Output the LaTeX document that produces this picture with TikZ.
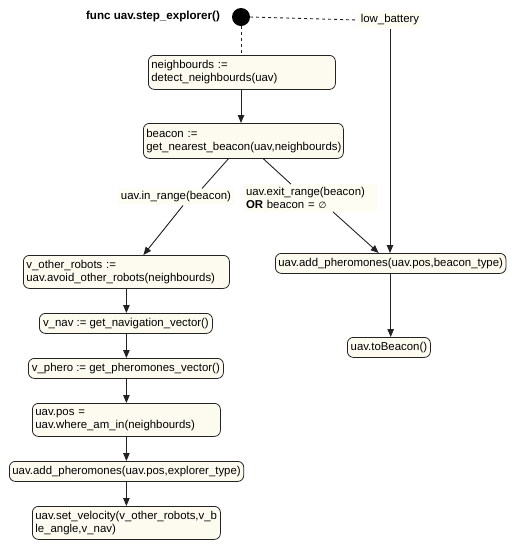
\documentclass[tikz,border=0pt]{standalone}
\usepackage{fontspec}
\setmainfont{Liberation Sans}
\newfontfamily\symfont{DejaVu Sans}
\usetikzlibrary{arrows.meta}
\definecolor{boxfill}{HTML}{FDFBF0}
\definecolor{labfill}{HTML}{FEFDF4}
\definecolor{edge}{HTML}{222222}
\begin{document}
\begin{tikzpicture}[x=1pt,y=-1pt,
  box/.style={draw=edge, fill=boxfill, rounded corners=6pt, line width=0.8pt,
    font=\fontsize{11.4}{13}\selectfont, inner xsep=3pt, inner ysep=2pt, align=left,
    anchor=north west},
  lab/.style={fill=labfill, inner sep=3pt, font=\fontsize{11.4}{13}\selectfont, align=left},
  conn/.style={draw=edge, line width=0.9pt},
  arr/.style={conn, -{Triangle[length=8pt,width=6.5pt]}}]
\fill[white] (0,0) rectangle (512,550);
\useasboundingbox (0,0) rectangle (512,550);
% title and start
\node[font=\fontsize{11.6}{12}\selectfont\bfseries] (title) at (153,16) {func uav.step\_explorer()};
\node[circle, fill=black, inner sep=0pt, minimum size=18pt] (start) at (241,17) {};
\node[lab] (lb) at (390,20) {low\_battery};
% boxes
\node[box, minimum width=187pt, minimum height=34pt, text width=181pt] (b1) at (148,55) {neighbourds :=\\detect\_neighbourds(uav)};
\node[box, minimum width=200pt, minimum height=35pt, text width=194pt] (b2) at (143,123) {beacon :=\\get\_nearest\_beacon(uav,neighbourds)};
\node[lab] (inr) at (176,197) {uav.in\_range(beacon)};
\node[lab, text width=128pt] (exr) at (310,198) {uav.exit\_range(beacon)\\\textbf{OR} beacon = {\symfont\fontsize{9}{13}\selectfont ∅}};
\node[box, minimum width=228pt, minimum height=20pt] (r1) at (275,253) {uav.add\_pheromones(uav.pos,beacon\_type)};
\node[box, minimum width=83pt, minimum height=20pt] (r2) at (347,337) {uav.toBeacon()};
\node[box, minimum width=206pt, minimum height=33pt, text width=200pt] (b3) at (23,255) {v\_other\_robots :=\\uav.avoid\_other\_robots(neighbourds)};
\node[box, minimum width=173pt, minimum height=20pt] (b4) at (39,313) {v\_nav := get\_navigation\_vector()};
\node[box, minimum width=195pt, minimum height=20pt] (b5) at (28,358) {v\_phero := get\_pheromones\_vector()};
\node[box, minimum width=188pt, minimum height=33pt, text width=182pt] (b6) at (32,403) {uav.pos =\\uav.where\_am\_in(neighbourds)};
\node[box, minimum width=234pt, minimum height=20pt] (b7) at (9,461) {uav.add\_pheromones(uav.pos,explorer\_type)};
\node[box, minimum width=188pt, minimum height=33pt, text width=182pt] (b8) at (32,506) {uav.set\_velocity(v\_other\_robots,v\_b\\le\_angle,v\_nav)};
% connectors
\draw[conn, dashed] (start.east) -- (lb.west);
\draw[conn, dashed] (start.south) -- (b1.north -| start.south);
\draw[arr] (b1.south -| start.south) -- (b2.north -| start.south);
\draw[arr] (lb.south) -- (r1.north -| lb.south);
\draw[conn] ([xshift=-15pt]b2.south) -- ([xshift=26pt]inr.north);
\draw[arr] ([xshift=7pt]inr.south) -- ([xshift=17pt]b3.north);
\draw[conn] ([xshift=20pt]b2.south) -- ([xshift=-19pt]exr.north);
\draw[arr] ([xshift=23pt]exr.south) -- ([xshift=-12pt]r1.north);
\draw[arr] (r1.south) -- (r2.north -| r1.south);
\draw[arr] (b3.south) -- (b4.north -| b3.south);
\draw[arr] (b4.south -| b3.south) -- (b5.north -| b3.south);
\draw[arr] (b5.south -| b3.south) -- (b6.north -| b3.south);
\draw[arr] (b6.south -| b3.south) -- (b7.north -| b3.south);
\draw[arr] (b7.south -| b3.south) -- (b8.north -| b3.south);
\end{tikzpicture}
\end{document}
